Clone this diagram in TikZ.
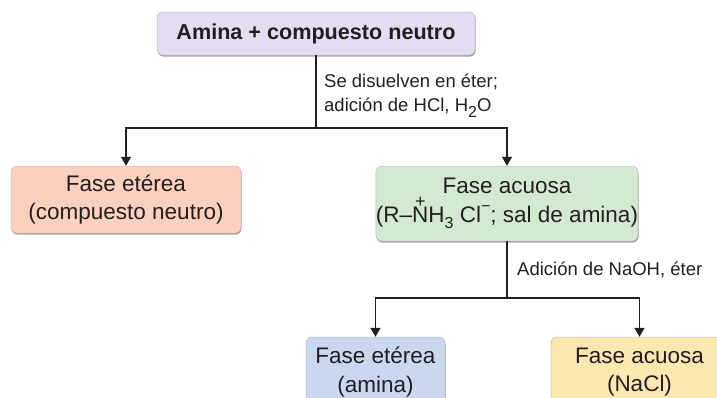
\documentclass[tikz,border=0pt]{standalone}
\usepackage{fontspec}
\setmainfont{Liberation Sans}
\usetikzlibrary{arrows.meta,shadows}
\definecolor{ink}{HTML}{231F20}
\definecolor{lilac}{HTML}{E4DDF1}
\definecolor{salmon}{HTML}{FBD0BF}
\definecolor{mint}{HTML}{D4E9D2}
\definecolor{sky}{HTML}{CAD7EF}
\definecolor{sand}{HTML}{FDE7B0}
\newcommand\subidx[1]{\raisebox{-0.28em}{\fontsize{16}{16}\selectfont #1}}
\newcommand\supminus{\raisebox{0.48em}{\fontsize{16}{16}\selectfont\char"2212}}
\newcommand\Nplus{\leavevmode\rlap{\hbox to\fontcharwd\font`N{\hss\raisebox{0.66em}{\fontsize{18}{18}\selectfont +}\hss}}N}
\begin{document}
\begin{tikzpicture}[x=1pt,y=-1pt,font=\fontsize{22.5}{28.5}\selectfont,text=ink,
  box/.style={rounded corners=6pt,draw=black!28,line width=0.5pt,align=center,inner sep=0pt,
    drop shadow={shadow xshift=0.6pt,shadow yshift=-1.6pt,fill=black!45,opacity=0.8}},
  link/.style={draw=ink,line width=1.5pt},
  tip/.style={link,-{Triangle[width=10pt,length=9pt]}},
  note/.style={font=\fontsize{18.5}{24}\selectfont,align=left,anchor=north west,inner sep=0pt}]
  \useasboundingbox (0,0) rectangle (717,397);
  \clip (0,0) rectangle (717,397);
  \node[box,fill=lilac,minimum width=318pt,minimum height=43pt,font=\fontsize{21.6}{26}\selectfont\bfseries] (mix) at (316,33.5) {Amina + compuesto neutro};
  \node[box,fill=salmon,minimum width=230pt,minimum height=67pt] (ether1) at (126,199.5) {Fase etérea\\(compuesto neutro)};
  \node[box,fill=mint,minimum width=262pt,minimum height=75pt] (water1) at (507,203.5) {Fase acuosa\\(R–\Nplus H\subidx{3} Cl\supminus; sal de amina)};
  \node[box,fill=sky,minimum width=139pt,minimum height=70pt] (ether2) at (375.5,372) {Fase etérea\\(amina)};
  \node[box,fill=sand,minimum width=177pt,minimum height=70pt] (water2) at (639.5,372) {Fase acuosa\\(NaCl)};
  \coordinate (split1) at (mix.south |- 0,128);
  \coordinate (split2) at (water1.south |- 0,298);
  \draw[link] (mix.south) -- (split1);
  \draw[tip] (split1) -| (ether1.north);
  \draw[tip] (split1) -| (water1.north);
  \draw[link] (water1.south) -- (split2);
  \draw[tip] (split2) -| (ether2.north);
  \draw[tip] (split2) -| (water2.north);
  \node[note] (step1) at (324,74) {Se disuelven en éter;\\adición de HCl, H\subidx{2}O};
  \node[note] (step2) at (517,262) {Adición de NaOH, éter};
\end{tikzpicture}
\end{document}
